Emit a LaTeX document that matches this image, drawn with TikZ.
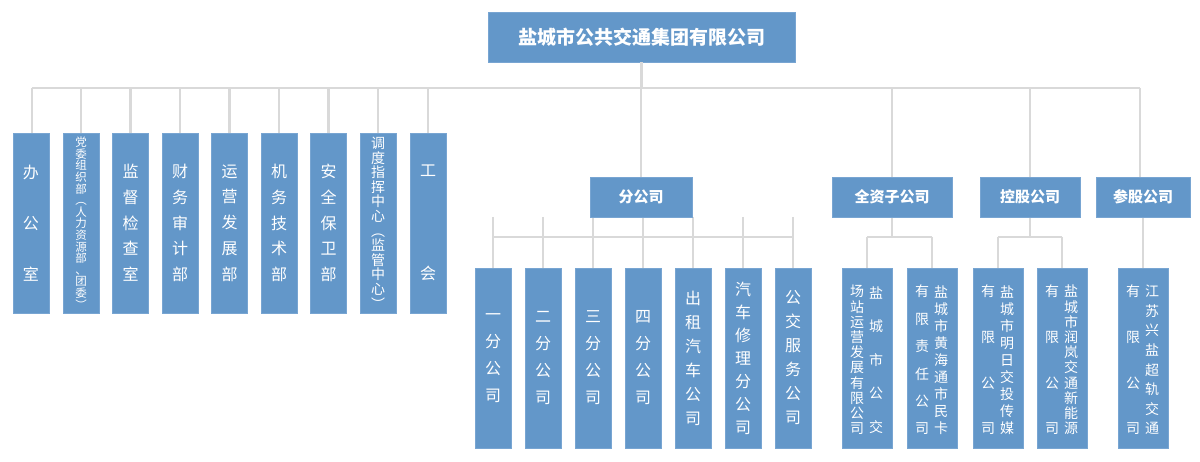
\documentclass[tikz,border=0pt]{standalone}
\usepackage{fontspec}
\setmainfont{Noto Sans CJK SC}
\definecolor{boxblue}{RGB}{99,151,201}
\definecolor{boxedge}{RGB}{120,165,210}
\definecolor{linegray}{RGB}{217,217,217}
\begin{document}
\begin{tikzpicture}[x=1pt,y=-1pt,
  box/.style={fill=boxblue,draw=boxedge,line width=0.6pt,inner sep=0pt,text=white,align=center},
  tall/.style={box,minimum width=36pt,minimum height=180pt},
  wide/.style={box,minimum width=50pt,minimum height=180pt},
  head/.style={box,minimum height=40pt,font=\fontsize{15}{18}\selectfont\bfseries},
  vt/.style 2 args={font=\fontsize{#1}{#2}\selectfont,text=white,align=center,inner sep=0pt},
  ln/.style={draw=linegray,line width=2.6pt}]
\useasboundingbox (0,0) rectangle (1200,462);
% connectors first
\coordinate (hl) at (32,88); \coordinate (hr) at (1140,88);
\coordinate (bl) at (493,237); \coordinate (br) at (793,237);
\node[box,minimum width=307pt,minimum height=50pt,font=\fontsize{19}{22}\selectfont\bfseries] (top) at (641.5,37) {盐城市公共交通集团有限公司};
\draw[ln] (top.south) -- (641.5,88);
\draw[ln] (hl) -- (hr);
\foreach \n/\x in {d1/32,d2/81,d3/130.5,d4/180,d5/229.5,d6/279,d7/328.5,d8/378,d9/428}
  \draw[ln] (\x,88) -- (\x,133);
\foreach \x in {641,892,1030,1140} \draw[ln] (\x,88) -- (\x,177);
\draw[ln] (bl) -- (br);
\foreach \x in {493,543,593,643,693,743,793} \draw[ln] (\x,217) -- (\x,268);
\draw[ln] (867,237) -- (932,237); \draw[ln] (892,217) -- (892,237);
\foreach \x in {867,932} \draw[ln] (\x,237) -- (\x,268);
\draw[ln] (998,237) -- (1062,237); \draw[ln] (1030,217) -- (1030,237);
\foreach \x in {998,1062} \draw[ln] (\x,237) -- (\x,268);
\draw[ln] (1143,217) -- (1143,268);
\draw[ln] (1140,88) -- (1140,177);
% left departments
\node[tall,vt={16}{51}] (d1) at (31,223) {办\\公\\室};
\node[tall,vt={11.5}{11.6}] (d2) at (81,223) {党\\委\\组\\织\\部\\︵\\人\\力\\资\\源\\部\\、\\团\\委\\︶};
\node[tall,vt={16}{25.7}] (d3) at (130.5,223) {监\\督\\检\\查\\室};
\node[tall,vt={16}{25.7}] (d4) at (180,223) {财\\务\\审\\计\\部};
\node[tall,vt={16}{25.7}] (d5) at (229.5,223) {运\\营\\发\\展\\部};
\node[tall,vt={16}{25.7}] (d6) at (279,223) {机\\务\\技\\术\\部};
\node[tall,vt={16}{25.7}] (d7) at (328.5,223) {安\\全\\保\\卫\\部};
\node[tall,vt={14}{14.6}] (d8) at (378,223) {调\\度\\指\\挥\\中\\心\\︵\\监\\管\\中\\心\\︶};
\node[tall,vt={16}{103}] (d9) at (428,223) {工\\会};
% heads
\node[head,minimum width=102pt] (fen) at (641,197) {分公司};
\node[head,minimum width=120pt] (qz) at (892,197) {全资子公司};
\node[head,minimum width=100pt] (kg) at (1030,197) {控股公司};
\node[head,minimum width=94pt] (cg) at (1143,197) {参股公司};
% branches
\node[tall,vt={16}{27}] (b1) at (493,358) {一\\分\\公\\司};
\node[tall,vt={16}{27}] (b2) at (543,358) {二\\分\\公\\司};
\node[tall,vt={16}{27}] (b3) at (593,358) {三\\分\\公\\司};
\node[tall,vt={16}{27}] (b4) at (643,358) {四\\分\\公\\司};
\node[tall,vt={16}{24}] (b5) at (693,358) {出\\租\\汽\\车\\公\\司};
\node[tall,vt={16}{23}] (b6) at (743,358) {汽\\车\\修\\理\\分\\公\\司};
\node[tall,vt={16}{24}] (b7) at (793,358) {公\\交\\服\\务\\公\\司};
% subsidiaries
\node[wide] (s1) at (867,358) {};
\node[vt={14}{33.5}] (s1r) at (876,360) {盐\\城\\市\\公\\交};
\node[vt={14}{15.2}] (s1l) at (857,360) {场\\站\\运\\营\\发\\展\\有\\限\\公\\司};
\node[wide] (s2) at (932,358) {};
\node[vt={14}{17}] (s2r) at (941,360) {盐\\城\\市\\黄\\海\\通\\市\\民\\卡};
\node[vt={14}{27.4}] (s2l) at (922,360) {有\\限\\责\\任\\公\\司};
\node[wide] (s3) at (998,358) {};
\node[vt={14}{17}] (s3r) at (1007,360) {盐\\城\\市\\明\\日\\交\\投\\传\\媒};
\node[vt={14}{45.7}] (s3l) at (988,360) {有\\限\\公\\司};
\node[wide] (s4) at (1062,358) {};
\node[vt={14}{15.2}] (s4r) at (1071,360) {盐\\城\\市\\润\\岚\\交\\通\\新\\能\\源};
\node[vt={14}{45.7}] (s4l) at (1052,360) {有\\限\\公\\司};
\node[wide] (s5) at (1143,358) {};
\node[vt={14}{19.6}] (s5r) at (1152,360) {江\\苏\\兴\\盐\\超\\轨\\交\\通};
\node[vt={14}{45.7}] (s5l) at (1133,360) {有\\限\\公\\司};
\end{tikzpicture}
\end{document}
